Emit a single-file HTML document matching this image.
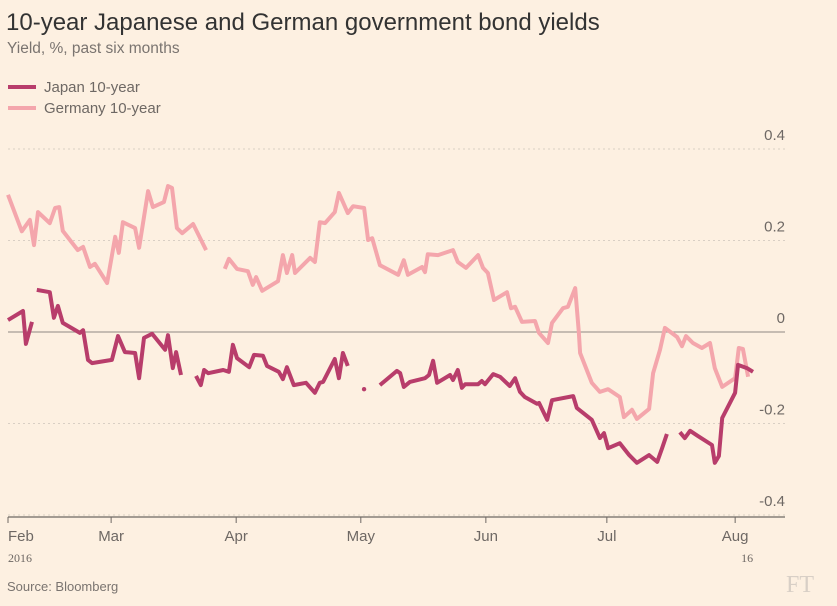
<!DOCTYPE html>
<html><head><meta charset="utf-8"><style>
body{margin:0;background:#fff1e2;}
svg{display:block;font-family:"Liberation Sans",sans-serif;}
</style></head><body>
<svg id="chart" width="837" height="606">
<rect width="837" height="606" fill="#fdf0e1"/>
<text x="6" y="30" font-size="24" fill="#333">10-year Japanese and German government bond yields</text>
<text x="7" y="53" font-size="15.5" fill="#7a7470">Yield, %, past six months</text>
<g>
<line x1="8" y1="87" x2="36" y2="87" stroke="#b83d6b" stroke-width="4"/>
<text x="44" y="92" font-size="15" fill="#6e6864">Japan 10-year</text>
<line x1="8" y1="108" x2="36" y2="108" stroke="#f4a6ac" stroke-width="4"/>
<text x="44" y="113" font-size="15" fill="#6e6864">Germany 10-year</text>
</g>
<g id="grid"></g>
<g id="series"></g>
<g id="xaxis"></g>
<text x="7" y="591" font-size="13" fill="#7a7470">Source: Bloomberg</text>
<text x="786" y="592" font-size="24" fill="#d8cfc6" font-family="Liberation Serif,serif">FT</text>
</svg>
<script>
const yTicks=[0.4,0.2,0,-0.2,-0.4];
const yTickLabels=["0.4","0.2","0","-0.2","-0.4"];
const xTickDays=[0,25.4,56.2,86.9,117.7,147.5,179.1];
const xTickLabels=["Feb","Mar","Apr","May","Jun","Jul","Aug"];
const germanyDays=[0,3.4,5.4,6.4,7.4,10.3,11.6,12.6,13.5,17.2,18.5,20.2,21.4,24.4,26.4,27.3,28.3,31.3,32.3,34.5,35.7,38.4,39.4,40.4,41.6,42.9,45.6,48.8,null,53.4,54.4,56.4,59.1,60.3,61.1,62.6,66.5,67.7,68.7,70.0,70.7,74.4,75.6,76.8,78.1,80.5,81.5,83.7,85.0,87.7,88.7,89.7,91.6,96.1,97.5,98.5,102.0,102.7,103.4,105.9,109.6,110.8,112.8,115.8,117.0,118.2,119.7,122.9,123.9,124.9,126.6,129.8,130.8,133.0,134.0,136.7,137.9,139.7,140.6,140.9,143.8,145.8,147.8,150.7,151.7,153.7,154.9,157.9,158.9,160.6,161.8,164.8,166.0,167.0,168.7,170.9,172.9,174.1,175.9,179.1,180.0,181.0,182.3];
const germanyYields=[.30,.22,.245,.19,.262,.238,.271,.273,.221,.179,.186,.142,.149,.107,.208,.173,.240,.227,.184,.308,.273,.284,.319,.315,.227,.216,.236,.179,null,.138,.160,.138,.133,.103,.120,.090,.111,.168,.129,.168,.129,.162,.153,.240,.238,.262,.304,.260,.275,.271,.201,.205,.146,.125,.157,.125,.142,.131,.170,.168,.179,.153,.140,.168,.140,.129,.070,.087,.052,.055,.022,.024,-.002,-.024,.020,.052,.055,.096,0,-.046,-.111,-.131,-.125,-.142,-.186,-.170,-.190,-.168,-.090,-.039,.009,-.011,-.031,-.009,-.024,-.035,-.024,-.079,-.120,-.101,-.035,-.037,-.098];
const japanDays=[0,3.7,4.4,5.9,null,7.1,10.3,11.3,12.3,13.5,17.7,18.5,19.7,20.7,25.6,27.1,28.8,31.3,32.3,33.5,35.5,38.7,39.4,40.6,41.4,42.6,null,46.3,47.5,48.3,49.3,53.0,54.4,55.4,56.4,59.4,60.6,62.8,63.8,66.7,67.7,68.7,70.4,73.4,75.6,76.8,77.6,80.5,81.5,82.5,83.7,null,87.7,null,91.6,95.8,96.6,97.5,99.0,102.7,103.7,104.7,105.7,108.9,109.6,110.8,111.8,112.6,115.8,116.7,117.5,119.5,121.2,123.6,124.9,126.1,127.3,130.3,130.8,132.8,134.0,139.2,140.1,143.8,145.8,146.8,147.8,150.7,153.0,154.9,157.9,159.9,161.1,162.3,null,165.5,166.7,168.0,169.9,173.4,174.1,175.1,175.9,179.1,179.8,182.0,183.5];
const japanYields=[.026,.046,-.026,.022,null,.092,.087,.031,.057,.020,-.002,.004,-.061,-.068,-.061,-.009,-.044,-.046,-.101,-.013,-.004,-.039,-.007,-.079,-.044,-.094,null,-.096,-.116,-.083,-.090,-.083,-.087,-.028,-.057,-.077,-.050,-.052,-.074,-.087,-.103,-.077,-.116,-.111,-.133,-.111,-.109,-.059,-.101,-.046,-.074,null,-.125,null,-.116,-.085,-.090,-.120,-.109,-.101,-.094,-.063,-.111,-.094,-.105,-.083,-.122,-.114,-.114,-.107,-.114,-.092,-.098,-.118,-.101,-.131,-.142,-.157,-.155,-.192,-.149,-.140,-.166,-.192,-.232,-.221,-.254,-.243,-.269,-.286,-.269,-.284,-.254,-.223,null,-.219,-.232,-.216,-.227,-.247,-.286,-.271,-.188,-.133,-.072,-.079,-.087];

const NS="http://www.w3.org/2000/svg";
const X0=8,X1=785,YZERO=332,YPER=457.5,PXDAY=4.06,BASE=517;
function xs(d){return X0+d*PXDAY;}
function ys(v){return YZERO-v*YPER;}
const grid=document.getElementById('grid');
yTicks.forEach((t,i)=>{
  const y=ys(t);
  const ln=document.createElementNS(NS,'line');
  ln.setAttribute('x1',X0);ln.setAttribute('x2',X1);ln.setAttribute('y1',y);ln.setAttribute('y2',y);
  if(t===0){ln.setAttribute('stroke','#a59d96');ln.setAttribute('stroke-width','1.2');}
  else{ln.setAttribute('stroke','#d9cfc4');ln.setAttribute('stroke-dasharray','2,3');}
  
  
  grid.appendChild(ln);
  const tx=document.createElementNS(NS,'text');
  tx.setAttribute('x',X1);tx.setAttribute('y',y-9);tx.setAttribute('text-anchor','end');
  tx.setAttribute('font-size','15');tx.setAttribute('fill','#6e6864');
  tx.textContent=yTickLabels[i];
  
  
  grid.appendChild(tx);
});
const series=document.getElementById('series');
function drawSeries(days,vals,color,name){
  let segs=[],cur=[];
  days.forEach((d,i)=>{
    if(d===null||vals[i]===null){if(cur.length)segs.push(cur);cur=[];}
    else cur.push([xs(d),ys(vals[i])]);
  });
  if(cur.length)segs.push(cur);
  segs.forEach(s=>{
    if(s.length===1){
      const c=document.createElementNS(NS,'circle');
      c.setAttribute('cx',s[0][0]);c.setAttribute('cy',s[0][1]);c.setAttribute('r','2.2');c.setAttribute('fill',color);
      
      
      series.appendChild(c);return;
    }
    const p=document.createElementNS(NS,'polyline');
    p.setAttribute('points',s.map(q=>q[0].toFixed(1)+','+q[1].toFixed(1)).join(' '));
    p.setAttribute('fill','none');p.setAttribute('stroke',color);p.setAttribute('stroke-width','4');
    p.setAttribute('stroke-linejoin','round');
    
    
    series.appendChild(p);
  });
}
drawSeries(germanyDays,germanyYields,'#f4a6ac','germany');
drawSeries(japanDays,japanYields,'#b83d6b','japan');
const xa=document.getElementById('xaxis');
const ax=document.createElementNS(NS,'line');
ax.setAttribute('x1',X0);ax.setAttribute('x2',X1);ax.setAttribute('y1',BASE);ax.setAttribute('y2',BASE);
ax.setAttribute('stroke','#6e6864');ax.setAttribute('stroke-width','1.2');


xa.appendChild(ax);
xTickDays.forEach((d,i)=>{
  const x=xs(d);
  const t=document.createElementNS(NS,'line');
  t.setAttribute('x1',x);t.setAttribute('x2',x);t.setAttribute('y1',BASE);t.setAttribute('y2',BASE+6);
  t.setAttribute('stroke','#6e6864');
  
  
  xa.appendChild(t);
  const tx=document.createElementNS(NS,'text');
  tx.setAttribute('x',x);tx.setAttribute('y',BASE+24);
  tx.setAttribute('text-anchor',i===0?'start':'middle');
  tx.setAttribute('font-size','15');tx.setAttribute('fill','#6e6864');
  tx.textContent=xTickLabels[i];
  
  
  xa.appendChild(tx);
});
[[xs(0),'2016','start'],[xs(179.1)+12,'16','middle']].forEach(a=>{
  const tx=document.createElementNS(NS,'text');
  tx.setAttribute('x',a[0]);tx.setAttribute('y',BASE+45);tx.setAttribute('text-anchor',a[2]);
  tx.setAttribute('font-size','12');tx.setAttribute('fill','#6e6864');tx.setAttribute('font-family','Liberation Serif,serif');
  tx.textContent=a[1];
  
  
  xa.appendChild(tx);
});
</script>
</body></html>
